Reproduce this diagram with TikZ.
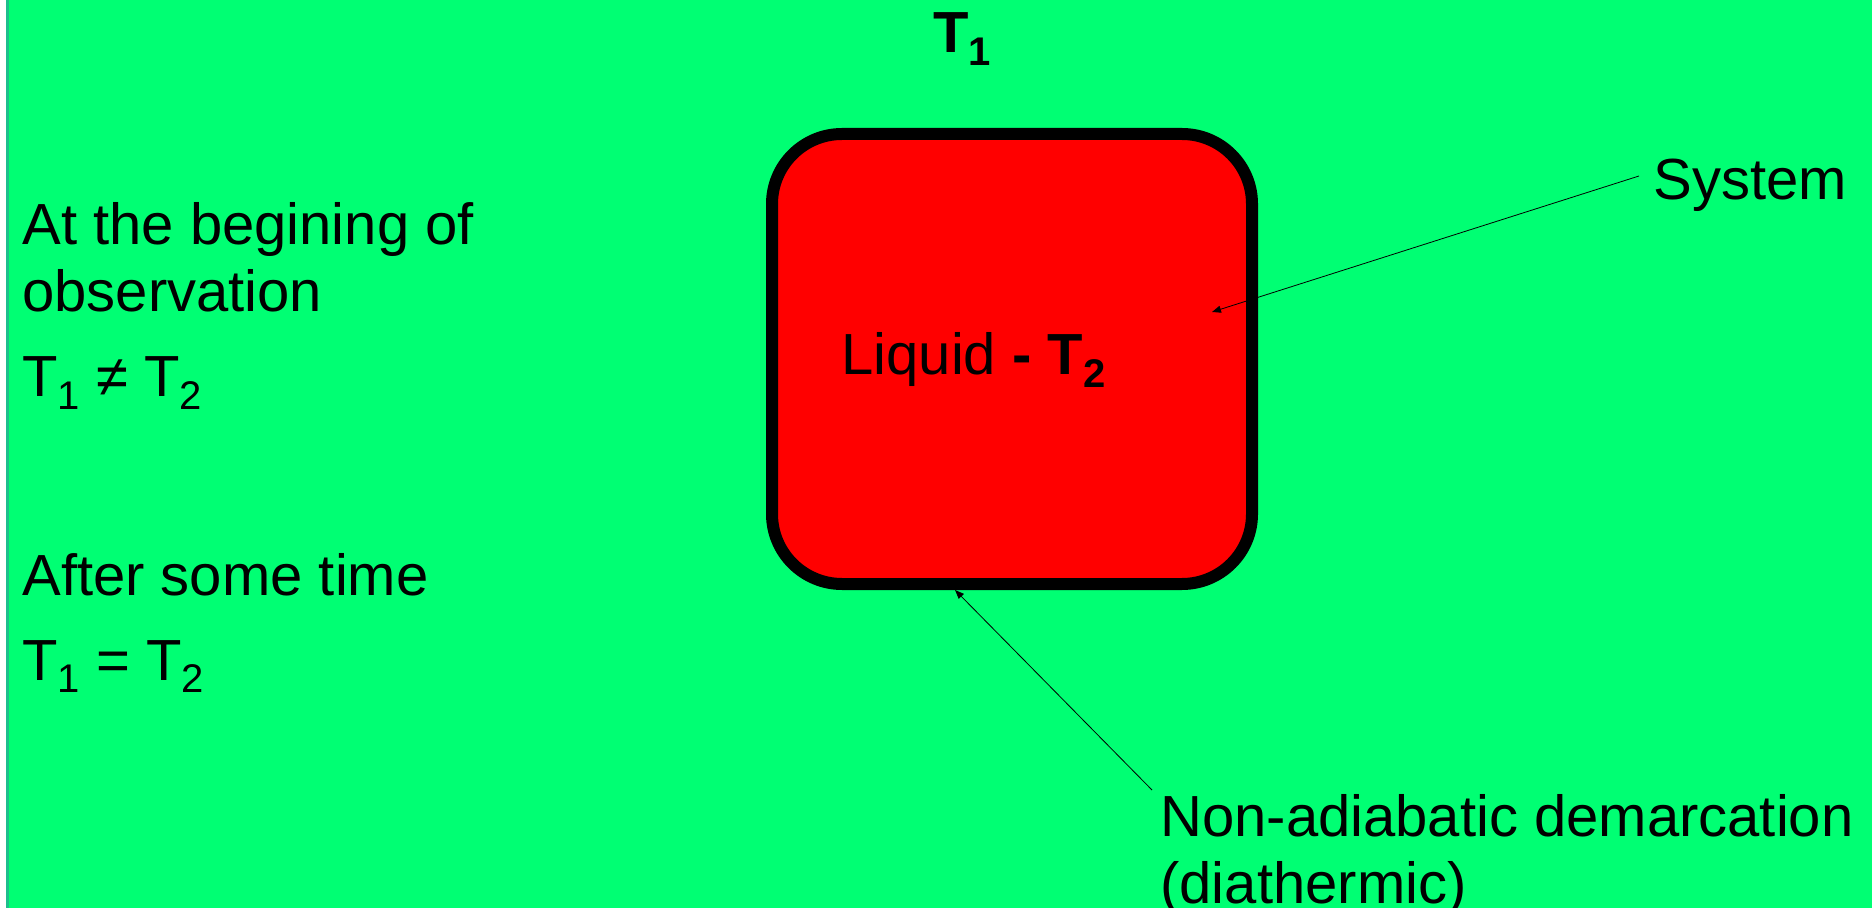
\documentclass[tikz,border=0pt]{standalone}
\usepackage{fontspec}
\setmainfont{Liberation Sans}
\usetikzlibrary{arrows.meta}
\definecolor{bggreen}{RGB}{0,255,115}
\definecolor{edgeteal}{RGB}{30,190,140}
\definecolor{liquidred}{RGB}{255,0,0}
\newcommand{\tsub}[1]{\raisebox{-0.21em}{\fontsize{20}{20}\selectfont #1}}
\tikzset{
  txt/.style={font=\fontsize{29}{33.5}\selectfont, inner sep=0pt, anchor=base west},
  vessel/.style={draw, line width=6pt, fill=liquidred, rounded corners=35pt,
    minimum width=240pt, minimum height=225pt, inner sep=0pt},
  pointer/.style={-{Triangle[length=4.5pt,width=3.5pt]}, line width=0.4pt}
}
\begin{document}
\begin{tikzpicture}[x=0.5pt, y=-0.5pt]
  \useasboundingbox (0,0) rectangle (1872,908);
  \fill[white] (0,0) rectangle (1872,908);
  \fill[edgeteal] (6,0) rectangle (9,908);
  \fill[bggreen] (9,0) rectangle (1872,908);
  \node[txt, font=\fontsize{29}{33.5}\selectfont\bfseries] (tone) at (933,53) {T\tsub{1}};
  \node[vessel] (vessel) at (1012,359) {};
  \node[txt] (liquid) at (841,375) {Liquid \textbf{- T\tsub{2}}};
  \node[txt] (begin1) at (22,245) {At the begining of};
  \node[txt] (begin2) at (22,312) {observation};
  \node[txt] (neq) at (22,397) {T\tsub{1} ≠ T\tsub{2}};
  \node[txt] (after) at (22,595) {After some time};
  \node[txt] (eq) at (22,680) {T\tsub{1} = T\tsub{2}};
  \node[txt] (sys) at (1653,200) {System};
  \node[txt, anchor=north west, align=left] (demarc) at (1160,794)
    {Non-adiabatic demarcation\\(diathermic)};
  \coordinate (systip) at (1212,312);
  \coordinate (walltip) at (955,590);
  \draw[pointer] ([shift={(-14,-24)}]sys.base west) -- (systip);
  \draw[pointer] ([shift={(-8,-4)}]demarc.north west) -- (walltip);
\end{tikzpicture}
\end{document}
